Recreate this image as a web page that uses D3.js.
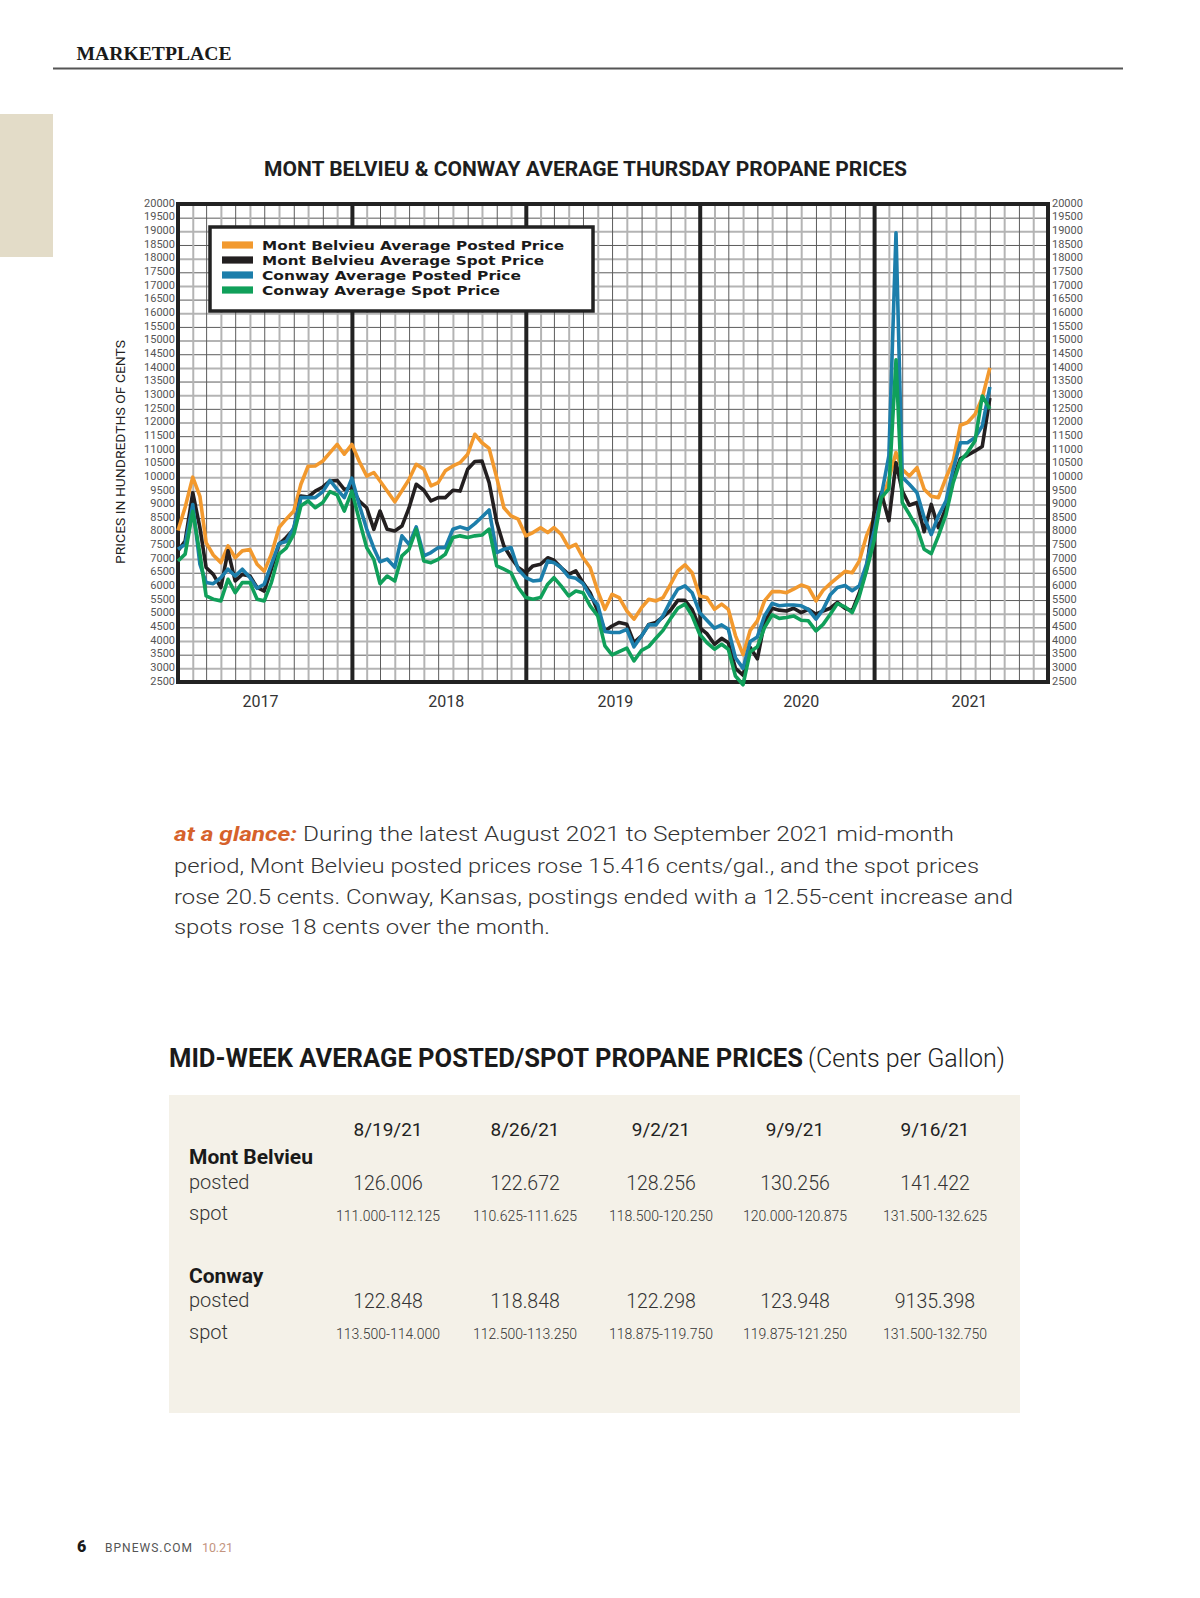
<!DOCTYPE html>
<html><head><meta charset="utf-8">
<script src="https://cdn.jsdelivr.net/npm/d3@7"></script>
<style>
body{margin:0;background:#fff;}
svg{display:block;}
</style>
</head><body>
<svg id="page" width="1200" height="1598"></svg>
<script>
// ---------------- DATA ----------------
// half-month sample points, Jan 2017 .. Sep 2021
const periods = d3.range(113).map(i => new Date(2017, Math.floor(i / 2), i % 2 ? 16 : 1));

const mbPosted = [8050,8900,10000,9300,7600,7150,6870,7480,7050,7300,7350,6810,6560,7180,8150,8460,8760,9740,10400,10410,
10590,10900,11200,10840,11200,10590,10040,10170,9860,9490,9100,9500,9920,10470,10290,9680,9800,10230,10410,10530,
10840,11570,11260,11050,9980,8880,8580,8460,7850,7970,8150,7970,8150,7910,7420,7540,7050,6690,5830,5160,
5710,5590,5100,4800,5220,5530,5470,5590,6080,6570,6790,6500,5650,5590,5160,5350,5160,4200,3500,4390,
4740,5470,5810,5810,5770,5900,6050,5960,5470,5860,6100,6320,6550,6500,6930,7850,8520,9070,9920,10900,
10290,10040,10350,9560,9300,9250,9980,10590,11900,12000,12300,12900,14000];

const mbSpot = [7300,7660,9430,8150,6690,6440,5960,7300,6200,6440,6380,5960,5830,6630,7540,7790,8090,9310,9270,9490,
9640,9860,9880,9550,9620,9130,8880,8090,8760,8090,8030,8210,8880,9740,9520,9130,9250,9250,9520,9490,
10290,10570,10590,9800,8340,7480,7050,6690,6500,6750,6810,7050,6960,6690,6440,6570,6140,5770,5100,4370,
4550,4680,4610,3940,4190,4610,4680,4880,5130,5490,5490,5160,4490,4270,3880,4100,3940,3000,2750,3760,
3350,4680,5200,5130,5100,5200,5040,5160,4980,5100,5200,5410,5200,5100,5770,6630,8700,9430,8400,10530,
9500,8970,9070,8000,9000,8150,8890,9920,10680,10800,10960,11120,12900];

const cwPosted = [7360,7540,9000,6810,6140,6100,6320,6630,6380,6630,6320,5930,6080,6810,7570,7640,8150,9250,9250,9250,
9470,9880,9550,9250,9960,9010,8100,7400,6900,7000,6700,7850,7540,8180,7120,7240,7420,7420,8090,8180,
8090,8300,8540,8800,7240,7360,7420,6630,6320,6200,6230,6930,6870,6690,6350,6300,6100,5650,5320,4350,
4310,4310,4430,3790,4190,4590,4590,4920,5470,5900,6020,5770,5040,4760,4470,4590,4430,3390,3000,3980,
4150,4920,5380,5290,5320,5320,5290,5160,4800,5160,5690,5960,6030,5840,6020,6810,8030,9310,10780,18950,
10000,9740,9430,8520,7900,8580,9130,10290,11260,11260,11450,11870,13300];

const cwSpot = [6930,7180,8750,7180,5650,5530,5470,6260,5770,6140,6140,5530,5470,6140,7180,7400,7910,8950,9130,8880,
9070,9470,9350,8760,9490,8460,7420,6990,6100,6380,6200,7120,7360,8090,6930,6870,6990,7180,7790,7850,
7790,7850,7880,8100,6750,6630,6500,5960,5590,5530,5590,6080,6320,6020,5650,5830,5770,5290,4920,3820,
3490,3610,3740,3270,3660,3800,4100,4390,4830,5200,5350,4920,4250,3940,3700,3880,3700,2720,2400,3610,
3790,4490,4960,4830,4860,4920,4760,4740,4370,4610,4980,5370,5250,5040,5650,6570,7670,9250,9560,14300,
9070,8640,8150,7360,7200,7850,8640,9800,10590,10900,11330,12970,12500];

const seriesNames = ["Mont Belvieu Average Posted Price","Mont Belvieu Average Spot Price","Conway Average Posted Price","Conway Average Spot Price"];
const seriesColors = ["#F2992E","#231F20","#1C7EAB","#10A05A"];
const yTicks = d3.range(2500, 20001, 500);
const yearLabels = ["2017", "2018", "2019", "2020", "2021"];
const yearLabelDates = ["2017-06-23", "2018-07-18", "2019-07-08", "2020-08-01", "2021-07-20"];

const tableDates = ["8/19/21","8/26/21","9/2/21","9/9/21","9/16/21"];
const mbPostedTbl = ["126.006","122.672","128.256","130.256","141.422"];
const mbSpotTbl = ["111.000-112.125","110.625-111.625","118.500-120.250","120.000-120.875","131.500-132.625"];
const cwPostedTbl = ["122.848","118.848","122.298","123.948","9135.398"];
const cwSpotTbl = ["113.500-114.000","112.500-113.250","118.875-119.750","119.875-121.250","131.500-132.750"];

const glanceLines = [
  [" During the latest August 2021 to September 2021 mid-month"],
  ["period, Mont Belvieu posted prices rose 15.416 cents/gal., and the spot prices"],
  ["rose 20.5 cents. Conway, Kansas, postings ended with a 12.55-cent increase and"],
  ["spots rose 18 cents over the month."]
];

// ---------------- PAGE ----------------
const svg = d3.select("#page");
const SANS = "Roboto, 'Open Sans', sans-serif";

// header
svg.append("text").attr("x", 76.5).attr("y", 59.5)
  .attr("font-family", "'Liberation Serif', serif").attr("font-weight", 700).attr("font-size", 19)
  .attr("textLength", 155).attr("lengthAdjust", "spacingAndGlyphs").attr("fill", "#1a1a1a")
  .text("MARKETPLACE");
svg.append("line").attr("x1", 53).attr("x2", 1123).attr("y1", 68.5).attr("y2", 68.5)
  .attr("stroke", "#555").attr("stroke-width", 2);
svg.append("rect").attr("x", 0).attr("y", 114).attr("width", 53).attr("height", 143).attr("fill", "#E3DCC8");

// chart title
svg.append("text").attr("x", 264).attr("y", 175.5)
  .attr("font-family", SANS).attr("font-weight", 700).attr("font-size", 20)
  .attr("textLength", 643).attr("lengthAdjust", "spacingAndGlyphs").attr("fill", "#1e1e1e")
  .text("MONT BELVIEU & CONWAY AVERAGE THURSDAY PROPANE PRICES");

// ---------------- CHART ----------------
const L = 178, R = 1048, T = 204, B = 682;
const x = d3.scaleTime().domain([new Date(2017, 0, 1), new Date(2022, 0, 1)]).range([L, R]);
const y = d3.scaleLinear().domain([2500, 20000]).range([B, T]);

// horizontal grid
const gy = svg.append("g").attr("transform", `translate(${L},0)`)
  .call(d3.axisLeft(y).tickValues(yTicks).tickSize(-(R - L)).tickFormat(""));
gy.select(".domain").remove();
gy.selectAll(".tick line")
  .attr("stroke", d => d % 1000 === 0 ? "#b4b4b4" : "#5c5c5c")
  .attr("stroke-width", d => d % 1000 === 0 ? 2 : 1);

// vertical grid (months)
const months = d3.timeMonth.range(new Date(2017, 1, 1), new Date(2022, 0, 1));
const gx = svg.append("g").attr("transform", `translate(0,${B})`)
  .call(d3.axisBottom(x).tickValues(months).tickSize(-(B - T)).tickFormat(""));
gx.select(".domain").remove();
gx.selectAll(".tick line")
  .attr("stroke", d => d.getMonth() === 0 ? "#222" : (d.getMonth() % 2 ? "#b4b4b4" : "#5c5c5c"))
  .attr("stroke-width", d => d.getMonth() === 0 ? 4 : (d.getMonth() % 2 ? 2 : 1));

// frame
svg.append("rect").attr("x", L).attr("y", T).attr("width", R - L).attr("height", B - T)
  .attr("fill", "none").attr("stroke", "#222").attr("stroke-width", 4);

// y labels left & right
function styleAxisText(g) {
  g.select(".domain").remove();
  g.selectAll("text").attr("font-family", SANS).attr("font-size", 11).attr("fill", "#555").attr("dy", "0.2em");
}
svg.append("g").attr("transform", `translate(${L - 1},0)`)
  .call(d3.axisLeft(y).tickValues(yTicks).tickSize(0).tickPadding(2).tickFormat(d3.format("d")))
  .call(styleAxisText);
svg.append("g").attr("transform", `translate(${R + 1},0)`)
  .call(d3.axisRight(y).tickValues(yTicks).tickSize(0).tickPadding(3).tickFormat(d3.format("d")))
  .call(styleAxisText);

// year labels
const parseDay = d3.timeParse("%Y-%m-%d");
svg.append("g").selectAll("text").data(yearLabels).join("text")
  .attr("x", (d, i) => x(parseDay(yearLabelDates[i]))).attr("y", 706.5)
  .attr("text-anchor", "middle").attr("font-family", SANS).attr("font-size", 16)
  .attr("fill", "#333").text(d => d);

// y axis title
svg.append("text").attr("transform", "translate(124.5,452) rotate(-90)")
  .attr("text-anchor", "middle").attr("font-family", SANS).attr("font-size", 12.5)
  .attr("textLength", 224).attr("lengthAdjust", "spacingAndGlyphs").attr("fill", "#222")
  .text("PRICES IN HUNDREDTHS OF CENTS");

// legend
const lg = svg.append("g");
lg.append("rect").attr("x", 210).attr("y", 227).attr("width", 383).attr("height", 84)
  .attr("fill", "#fff").attr("stroke", "#222").attr("stroke-width", 3.5);
const legendWidths = [302, 282, 259, 238];
seriesNames.forEach((n, i) => {
  const cy = 245 + i * 15;
  lg.append("rect").attr("x", 222).attr("y", cy - 3.6).attr("width", 31).attr("height", 7.2).attr("fill", seriesColors[i]);
  lg.append("text").attr("x", 262).attr("y", cy + 4.5)
    .attr("font-family", "'DejaVu Sans', sans-serif").attr("font-weight", 700).attr("font-size", 12)
    .attr("textLength", legendWidths[i]).attr("lengthAdjust", "spacingAndGlyphs").attr("fill", "#1a1a1a")
    .text(n);
});

// lines
const line = d3.line().x((d, i) => x(periods[i])).y(d => y(d)).curve(d3.curveLinear);
[mbPosted, mbSpot, cwPosted, cwSpot].forEach((s, i) => {
  svg.append("path").datum(s).attr("d", line).attr("fill", "none")
    .attr("stroke", seriesColors[i]).attr("stroke-width", 3.6)
    .attr("stroke-linejoin", "round").attr("stroke-linecap", "butt");
});

// ---------------- AT A GLANCE ----------------
const glanceBase = [841, 872.5, 903.5, 934];
const glanceLen = [780, 805, 839, 376];
glanceLines.forEach((ln, i) => {
  const t = svg.append("text").attr("x", 174).attr("y", glanceBase[i])
    .attr("font-family", SANS).attr("font-weight", 300).attr("font-size", 21).attr("fill", "#333")
    .attr("textLength", glanceLen[i]).attr("lengthAdjust", "spacingAndGlyphs");
  if (i === 0) t.append("tspan").attr("font-weight", 700).attr("font-style", "italic").attr("fill", "#D6622B").text("at a glance:");
  t.append("tspan").text(ln[0]);
});

// ---------------- TABLE ----------------
svg.append("text").attr("x", 169).attr("y", 1067)
  .attr("font-family", SANS).attr("font-weight", 700).attr("font-size", 26)
  .attr("textLength", 634).attr("lengthAdjust", "spacingAndGlyphs").attr("fill", "#1a1a1a")
  .text("MID-WEEK AVERAGE POSTED/SPOT PROPANE PRICES");
svg.append("text").attr("x", 808).attr("y", 1067)
  .attr("font-family", SANS).attr("font-weight", 300).attr("font-size", 26)
  .attr("textLength", 197).attr("lengthAdjust", "spacingAndGlyphs").attr("fill", "#222")
  .text("(Cents per Gallon)");

svg.append("rect").attr("x", 169).attr("y", 1095).attr("width", 851).attr("height", 318).attr("fill", "#F4F1E8");

const colX = [388, 525, 661, 795, 935];
const tg = svg.append("g").attr("font-family", SANS).attr("fill", "#222");
tg.selectAll(".d").data(tableDates).join("text").attr("x", (d, i) => colX[i]).attr("y", 1135.5)
  .attr("text-anchor", "middle").attr("font-size", 19).attr("font-weight", 400).text(d => d);

function rowLabel(txt, yb, bold) {
  tg.append("text").attr("x", 189).attr("y", yb).attr("font-size", bold ? 21 : 20)
    .attr("font-weight", bold ? 700 : 300).attr("fill", bold ? "#1a1a1a" : "#333").text(txt);
}
rowLabel("Mont Belvieu", 1164, true);
rowLabel("posted", 1189, false);
rowLabel("spot", 1220, false);
rowLabel("Conway", 1282.5, true);
rowLabel("posted", 1307, false);
rowLabel("spot", 1338.5, false);

function postedRow(arr, yb) {
  tg.append("g").selectAll("text").data(arr).join("text").attr("x", (d, i) => colX[i]).attr("y", yb)
    .attr("text-anchor", "middle").attr("font-size", 19.5).attr("font-weight", 300).attr("fill", "#333").text(d => d);
}
function spotRow(arr, yb) {
  tg.append("g").selectAll("text").data(arr).join("text").attr("x", (d, i) => colX[i] - 52).attr("y", yb)
    .attr("font-size", 15.5).attr("font-weight", 300).attr("fill", "#333")
    .attr("textLength", 104).attr("lengthAdjust", "spacingAndGlyphs").text(d => d);
}
postedRow(mbPostedTbl, 1190);
spotRow(mbSpotTbl, 1220.5);
postedRow(cwPostedTbl, 1307.5);
spotRow(cwSpotTbl, 1339);

// ---------------- FOOTER ----------------
svg.append("text").attr("x", 77).attr("y", 1552).attr("font-family", SANS).attr("font-weight", 900)
  .attr("font-size", 16).attr("fill", "#1a1a1a").text("6");
svg.append("text").attr("x", 105).attr("y", 1552).attr("font-family", SANS).attr("font-weight", 400)
  .attr("font-size", 12).attr("textLength", 87).attr("lengthAdjust", "spacing").attr("fill", "#555").text("BPNEWS.COM");
svg.append("text").attr("x", 202).attr("y", 1552).attr("font-family", SANS).attr("font-weight", 400)
  .attr("font-size", 12.5).attr("textLength", 31).attr("lengthAdjust", "spacing").attr("fill", "#C4957F").text("10.21");
</script>
</body></html>
